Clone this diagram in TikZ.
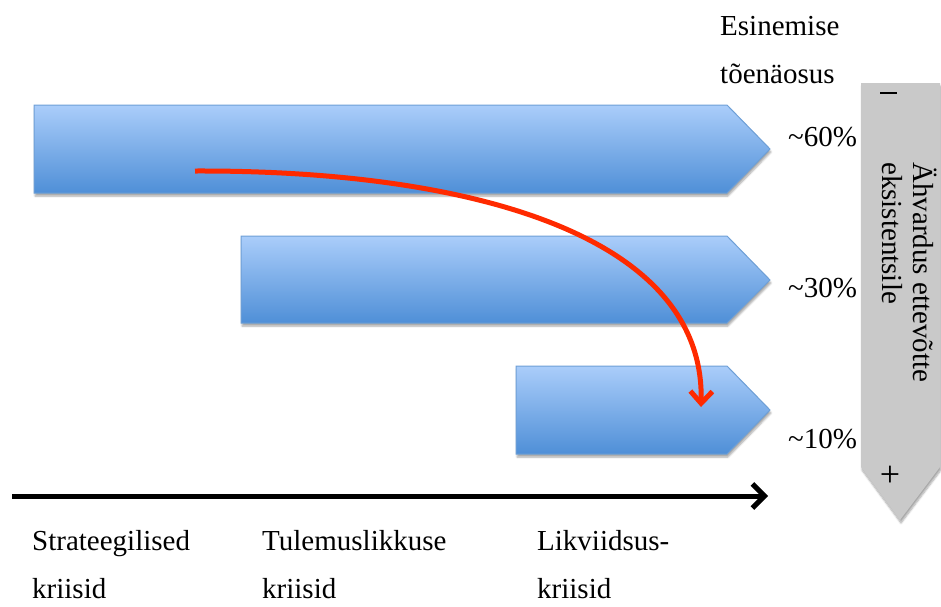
\documentclass[tikz,border=0pt]{standalone}
\usepackage{fontspec}
\setmainfont{Liberation Serif}
\usetikzlibrary{arrows.meta,shadows.blur}
\definecolor{blueTop}{HTML}{AACDFA}
\definecolor{blueBot}{HTML}{4F8FD7}
\definecolor{blueEdge}{HTML}{6E9FD6}
\definecolor{threatGray}{HTML}{C9C9C9}
\definecolor{flowRed}{HTML}{FF2A00}
\tikzset{
  softshadow/.style={blur shadow={shadow xshift=1pt, shadow yshift=-3pt, shadow blur steps=6, shadow opacity=35}},
  stagearrow/.style={draw=blueEdge, line width=1pt, top color=blueTop, bottom color=blueBot, softshadow},
  lbl/.style={inner sep=0pt, anchor=base west, align=left,
    font=\fontsize{29}{48}\selectfont},
}
\begin{document}
\begin{tikzpicture}[x=1pt, y=-1pt]
\useasboundingbox (0,0) rectangle (941,606);

% crisis stages as pointed bars
\path[stagearrow] (34,105) -- (727,105) -- (770,149) -- (727,193) -- (34,193) -- cycle;
\path[stagearrow] (241,236) -- (727,236) -- (770,280) -- (727,323) -- (241,323) -- cycle;
\path[stagearrow] (516,366) -- (727,366) -- (770,410) -- (727,454) -- (516,454) -- cycle;

% threat scale on the right
\path[fill=threatGray, softshadow]
  (861,83) -- (940,83) -- (940,467) -- (900,520) -- (861,467) -- cycle;
\draw[line width=1.3pt] (880,93) coordinate (minusL) -- (897,93) coordinate (minusR);
\node[inner sep=0pt, font=\fontsize{36}{36}\selectfont] (plus) at (890,476) {+};
\node[lbl, rotate=-90, anchor=base west] (threat1) at (913,162) {Ähvardus ettevõtte};
\node[lbl, rotate=-90, anchor=base west] (threat2) at (882,162) {eksistentsile};

% time axis
\coordinate (axisL) at (12,496);
\coordinate (axisR) at (768,496);
\draw[line width=5pt, -{Straight Barb[length=12pt,width=24pt]}] (axisL) -- (axisR);

% escalation path
\coordinate (escA) at (195,171);
\coordinate (escB) at (701,407);
\draw[flowRed, line width=5pt, -{Straight Barb[length=12pt,width=22pt]}]
  (escA) .. controls (470,170) and (705,235) .. (escB);

% probabilities
\node[lbl] (head) at (720,83) {Esinemise\\tõenäosus};
\node[lbl] (p60) at (788,146) {\textasciitilde 60\%};
\node[lbl] (p30) at (788,297) {\textasciitilde 30\%};
\node[lbl] (p10) at (788,448) {\textasciitilde 10\%};

% stage names
\node[lbl] (s1) at (32,598) {Strateegilised\\kriisid};
\node[lbl] (s2) at (262,598) {Tulemuslikkuse\\kriisid};
\node[lbl] (s3) at (537,598) {Likviidsus-\\kriisid};
\end{tikzpicture}
\end{document}
